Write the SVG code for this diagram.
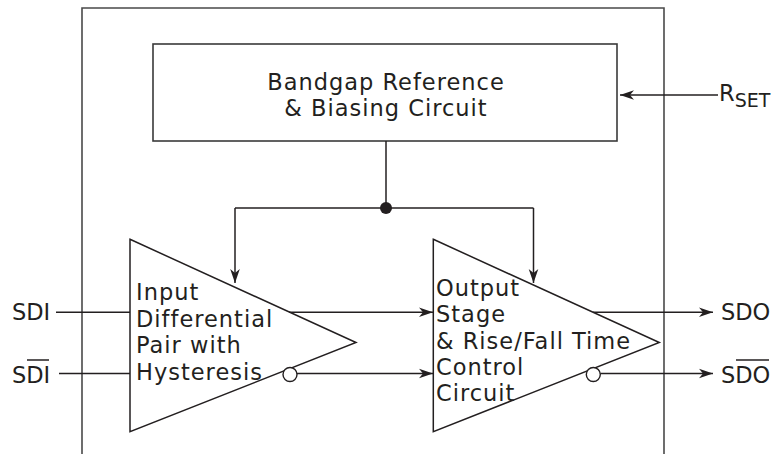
<svg xmlns="http://www.w3.org/2000/svg" width="776" height="454" viewBox="0 0 776 454">
  <defs>
    <marker id="arr" viewBox="-15 -6 16 12" markerWidth="16" markerHeight="12" refX="0" refY="0" orient="auto" markerUnits="userSpaceOnUse">
      <path d="M0,0 L-14,-4.8 L-10,0 L-14,4.8 Z" fill="#231f20"/>
    </marker>
    <style>
      .ln { fill: none; stroke: #231f20; stroke-width: 1.5; }
      .frame { fill: none; stroke: #4a4a4a; stroke-width: 1.6; }
      .box { fill: #ffffff; stroke: #3a3a3a; stroke-width: 1.6; }
      .tri { fill: #ffffff; stroke: #231f20; stroke-width: 1.5; }
      .bub { fill: #ffffff; stroke: #231f20; stroke-width: 1.4; }
      .t { font-family: "DejaVu Sans", "Liberation Sans", sans-serif; font-size: 22.5px; fill: #231f20; }
      .ts { letter-spacing: 1px; }
    </style>
  </defs>

  <g id="frame">
    <path class="frame" d="M82,454 V8 H664 V454"/>
  </g>

  <g id="bandgap">
    <rect class="box" x="153" y="44" width="464" height="97"/>
    <text class="t ts" x="386" y="89.5" text-anchor="middle">Bandgap Reference</text>
    <text class="t ts" x="386" y="115.5" text-anchor="middle">&amp; Biasing Circuit</text>
  </g>

  <g id="input-stage">
    <polygon class="tri" points="130,239.3 356,342.5 130,431.7"/>
    <text class="t ts" x="136" y="300">Input</text>
    <text class="t ts" x="136" y="326.5">Differential</text>
    <text class="t ts" x="136" y="353">Pair with</text>
    <text class="t ts" x="136" y="379.5">Hysteresis</text>
    <circle class="bub" cx="290" cy="374.5" r="7"/>
  </g>

  <g id="output-stage">
    <polygon class="tri" points="433.3,239.3 659.3,342.5 433.3,431.7"/>
    <text class="t ts" x="436" y="296">Output</text>
    <text class="t ts" x="436" y="322.3">Stage</text>
    <text class="t ts" x="436" y="348.6">&amp; Rise/Fall Time</text>
    <text class="t ts" x="436" y="374.9">Control</text>
    <text class="t ts" x="436" y="401.2">Circuit</text>
    <circle class="bub" cx="593.3" cy="374.5" r="7"/>
  </g>

  <g id="pins">
    <text class="t" x="12" y="320">SDI</text>
    <text class="t" x="12" y="382.5">SDI</text>
    <line class="ln" x1="27" y1="360" x2="49" y2="360"/>
    <text class="t" x="721" y="320">SDO</text>
    <text class="t" x="721" y="382.5">SDO</text>
    <line class="ln" x1="736" y1="360" x2="769" y2="360"/>
    <text class="t" x="719" y="101">R<tspan font-size="19" dy="6">SET</tspan></text>
  </g>

  <g id="connectors">
    <line class="ln" x1="718" y1="95" x2="620" y2="95" marker-end="url(#arr)"/>
    <polyline class="ln" points="386,141 386,208"/>
    <polyline class="ln" points="235,208 533.5,208"/>
    <line class="ln" x1="235" y1="208" x2="235" y2="283" marker-end="url(#arr)"/>
    <line class="ln" x1="533.5" y1="208" x2="533.5" y2="283" marker-end="url(#arr)"/>
    <circle cx="386" cy="208" r="6" fill="#231f20"/>
    <line class="ln" x1="56" y1="312.3" x2="130" y2="312.3"/>
    <line class="ln" x1="59" y1="373.5" x2="130" y2="373.5"/>
    <line class="ln" x1="289" y1="312.3" x2="433" y2="312.3" marker-end="url(#arr)"/>
    <line class="ln" x1="297" y1="373.5" x2="433" y2="373.5" marker-end="url(#arr)"/>
    <line class="ln" x1="593" y1="312.3" x2="713" y2="312.3" marker-end="url(#arr)"/>
    <line class="ln" x1="600.3" y1="373.5" x2="713" y2="373.5" marker-end="url(#arr)"/>
  </g>
</svg>
